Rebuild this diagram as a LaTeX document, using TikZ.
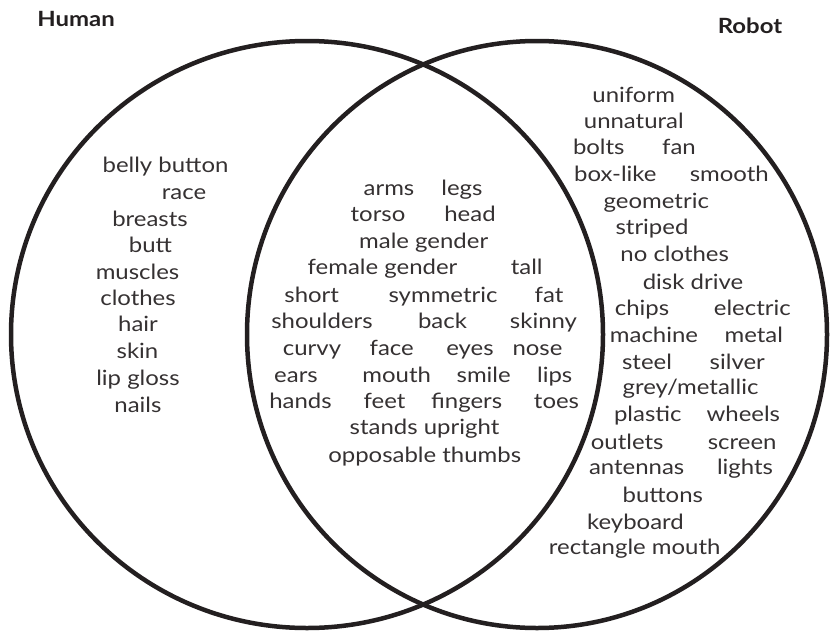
\documentclass[tikz,border=0pt]{standalone}
\usepackage{fontspec}
\setmainfont{Lato}[FakeStretch=1.14]
\definecolor{ink}{HTML}{231F20}
\begin{document}
\begin{tikzpicture}[x=1pt,y=-1pt,
  word/.style={font=\fontsize{21}{24}\selectfont, text=ink!92, inner sep=0pt, anchor=center, text height=15pt, text depth=2pt},
  title/.style={font=\bfseries\fontsize{21}{24}\selectfont, text=ink, inner sep=0pt, anchor=base},
  ring/.style={draw=ink, line width=4.5pt}]
\useasboundingbox (0,0) rectangle (830,632);
\draw[ring] (307,334.5) ellipse [x radius=296pt, y radius=293.5pt];
\draw[ring] (537,334.5) ellipse [x radius=290pt, y radius=293.5pt];
% titles
\node[title] (thuman) at (76,26.7) {Human};
\node[title] (trobot) at (750,33.3) {Robot};
% human only
\node[word] (h1) at (165.5,166) {belly button};
\node[word] (h2) at (184,193) {race};
\node[word] (h3) at (150,220) {breasts};
\node[word] (h4) at (150.5,246) {butt};
\node[word] (h5) at (137.5,272.7) {muscles};
\node[word] (h6) at (138,299) {clothes};
\node[word] (h7) at (138,325) {hair};
\node[word] (h8) at (137.5,352) {skin};
\node[word] (h9) at (138,379) {lip gloss};
\node[word] (h10) at (138,406) {nails};
% both
\node[word] (b1) at (389,189.3) {arms};
\node[word] (b2) at (462,189.3) {legs};
\node[word] (b3) at (378,215) {torso};
\node[word] (b4) at (470,215) {head};
\node[word] (b5) at (423.7,241.7) {male gender};
\node[word] (b6) at (382.5,268) {female gender};
\node[word] (b7) at (526.7,268) {tall};
\node[word] (b8) at (311.7,296) {short};
\node[word] (b9) at (443,296) {symmetric};
\node[word] (b10) at (549,296) {fat};
\node[word] (b11) at (322,321.7) {shoulders};
\node[word] (b12) at (442.5,321.7) {back};
\node[word] (b13) at (543.5,321.7) {skinny};
\node[word] (b14) at (312,349.3) {curvy};
\node[word] (b15) at (391.7,349.3) {face};
\node[word] (b16) at (470,349.3) {eyes};
\node[word] (b17) at (537.5,349.3) {nose};
\node[word] (b18) at (296,376) {ears};
\node[word] (b19) at (396.7,376) {mouth};
\node[word] (b20) at (483.7,376) {smile};
\node[word] (b21) at (554.7,376) {lips};
\node[word] (b22) at (300.5,401.7) {hands};
\node[word] (b23) at (384.5,401.7) {feet};
\node[word] (b24) at (466.7,401.7) {fingers};
\node[word] (b25) at (556.5,401.7) {toes};
\node[word] (b26) at (424.5,428.3) {stands upright};
\node[word] (b27) at (424.7,456) {opposable thumbs};
% robot only
\node[word] (r1) at (633.7,96) {uniform};
\node[word] (r2) at (633.8,121.7) {unnatural};
\node[word] (r3) at (598.8,148.3) {bolts};
\node[word] (r4) at (679,148.3) {fan};
\node[word] (r5) at (615.3,175) {box-like};
\node[word] (r6) at (729.3,175) {smooth};
\node[word] (r7) at (656.3,201.7) {geometric};
\node[word] (r8) at (652,228.3) {striped};
\node[word] (r9) at (674.7,255) {no clothes};
\node[word] (r10) at (693,283.3) {disk drive};
\node[word] (r11) at (642,309.3) {chips};
\node[word] (r12) at (752.3,309.3) {electric};
\node[word] (r13) at (654,335.7) {machine};
\node[word] (r14) at (753.8,335.7) {metal};
\node[word] (r15) at (647,362.7) {steel};
\node[word] (r16) at (737.3,362.7) {silver};
\node[word] (r17) at (690.5,388.3) {grey/metallic};
\node[word] (r18) at (647.8,415) {plastic};
\node[word] (r19) at (743.3,415) {wheels};
\node[word] (r20) at (627.2,442.7) {outlets};
\node[word] (r21) at (742.2,442.7) {screen};
\node[word] (r22) at (636.7,468.3) {antennas};
\node[word] (r23) at (745,468.3) {lights};
\node[word] (r24) at (662.8,496) {buttons};
\node[word] (r25) at (635.5,522.7) {keyboard};
\node[word] (r26) at (634.7,548.3) {rectangle mouth};
\end{tikzpicture}
\end{document}
